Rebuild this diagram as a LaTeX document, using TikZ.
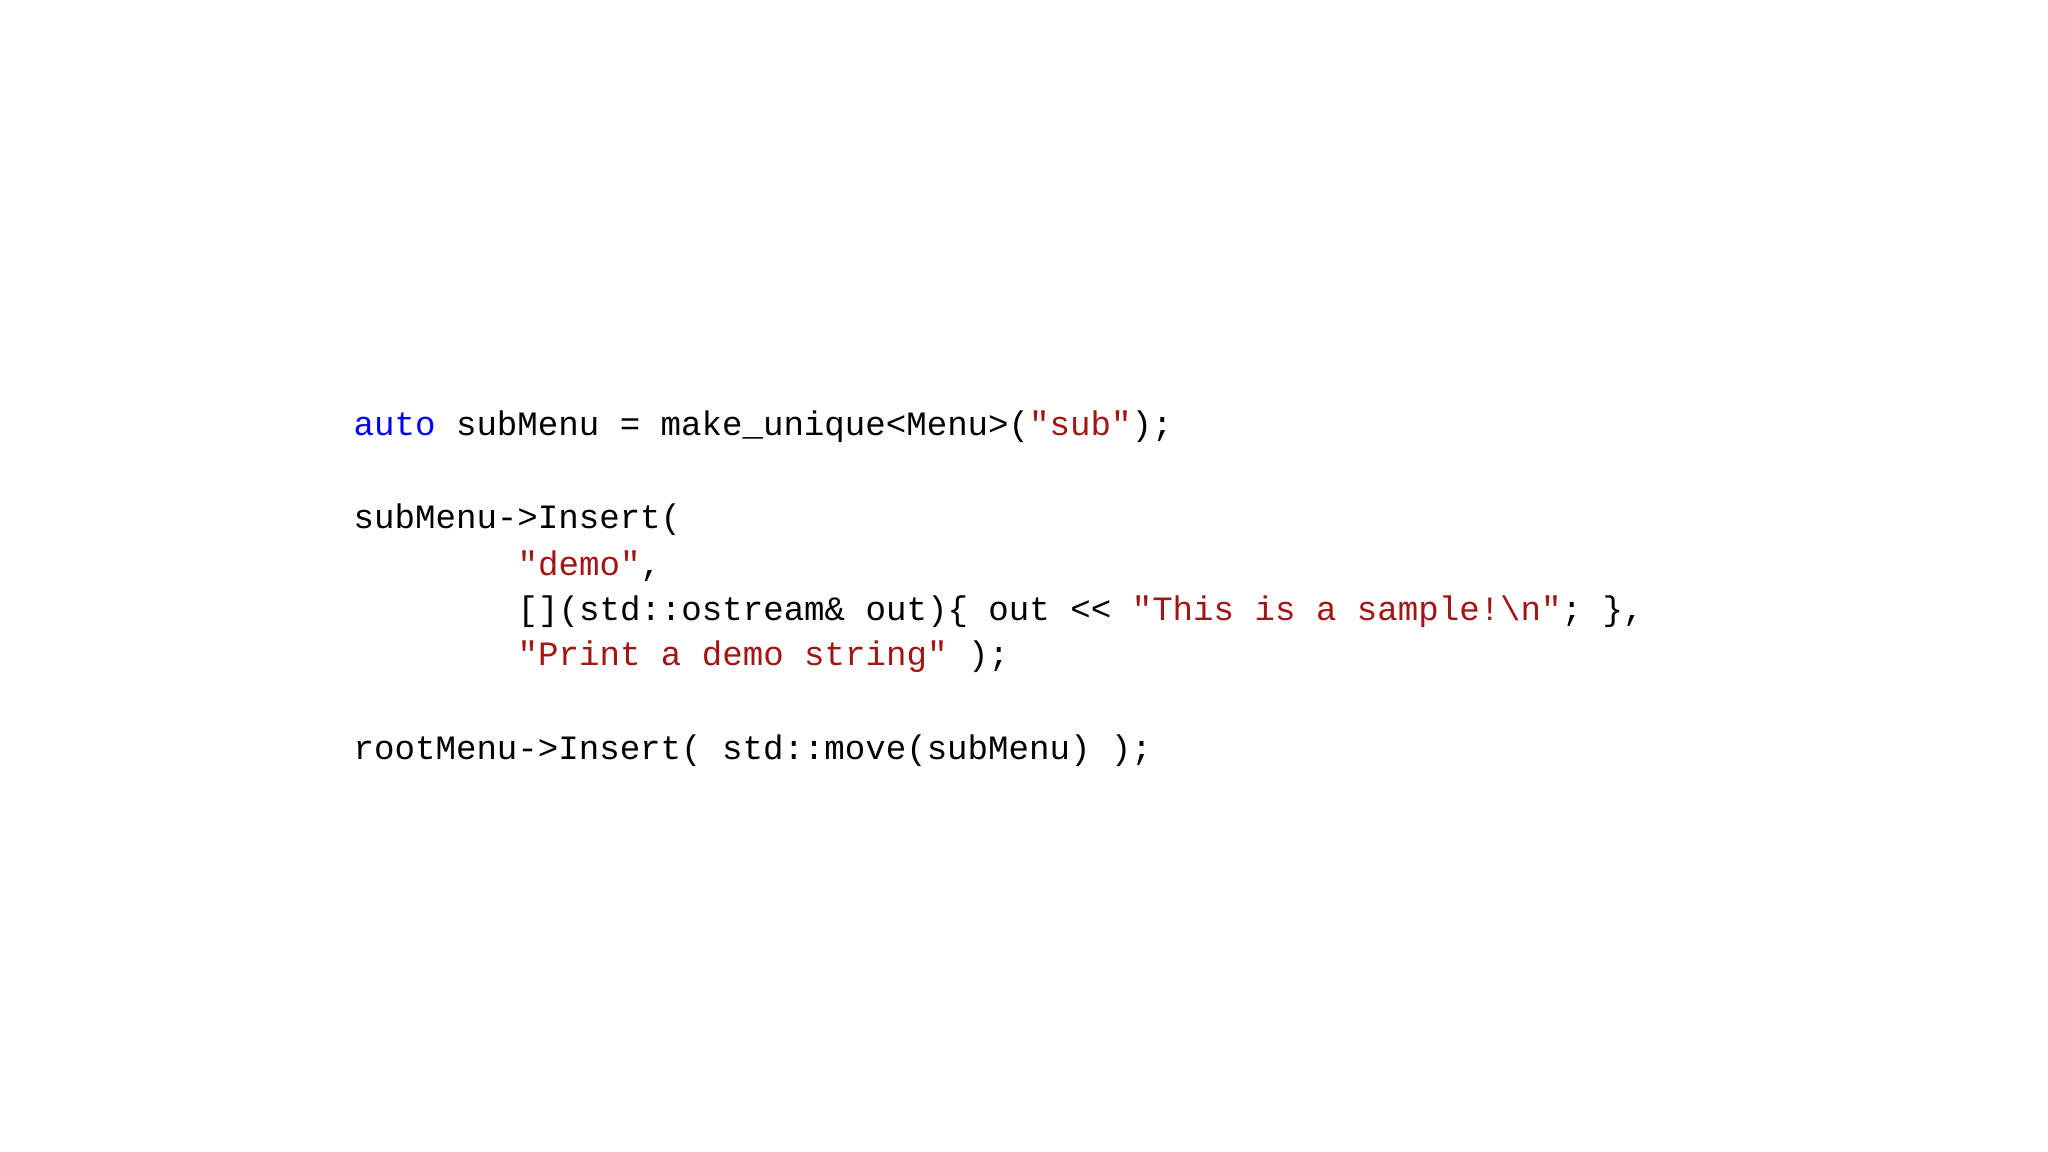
\documentclass[tikz,border=0pt]{standalone}
\usepackage{fontspec}
\setmonofont{Liberation Mono}
\definecolor{kw}{RGB}{0,0,255}
\definecolor{str}{RGB}{163,21,21}
\begin{document}
\begin{tikzpicture}[x=0.01cm,y=-0.01cm,
  code/.style={anchor=base west,inner sep=0pt,font=\fontsize{9.7pt}{13pt}\ttfamily}]
\useasboundingbox[fill=white] (0,0) rectangle (2048,1152);
\node[code] (l1) at (353,436) {\textcolor{kw}{auto} subMenu = make\_unique<Menu>(\textcolor{str}{"sub"});};
\node[code] (l2) at (353,529) {subMenu->Insert(};
\node[code] (l3) at (517,575) {\textcolor{str}{"demo"},};
\node[code] (l4) at (517,620) {[](std::ostream\& out)\{ out << \textcolor{str}{"This is a sample!\textbackslash n"}; \},};
\node[code] (l5) at (517,666) {\textcolor{str}{"Print a demo string"} );};
\node[code] (l6) at (353,759) {rootMenu->Insert( std::move(subMenu) );};
\end{tikzpicture}
\end{document}
